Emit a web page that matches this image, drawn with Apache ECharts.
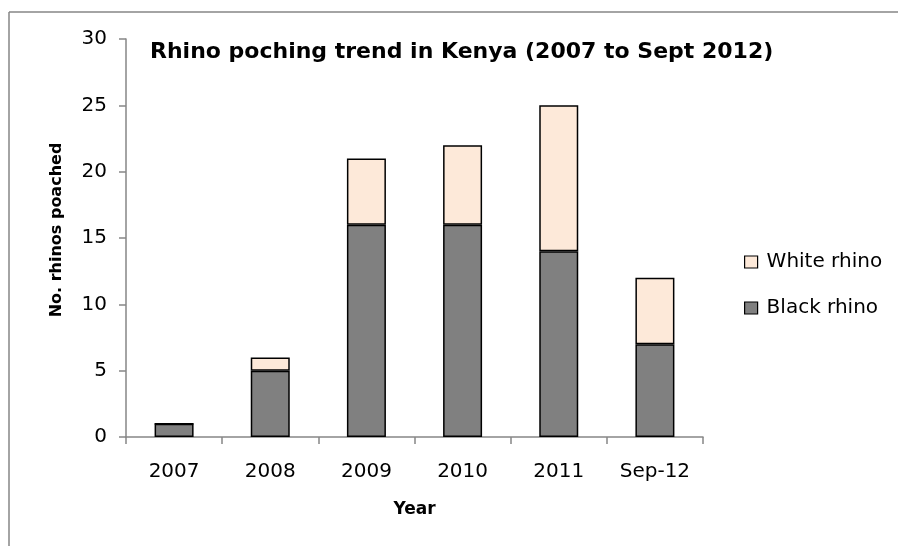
<!DOCTYPE html>
<html><head><meta charset="utf-8">
<script src="https://cdn.jsdelivr.net/npm/echarts@6/dist/echarts.min.js"></script>
<style>html,body{margin:0;padding:0;background:#fff;overflow:hidden}#c{width:898px;height:546px}</style>
</head><body><div id="c"></div>
<script>
const categories = ['2007','2008','2009','2010','2011','Sep-12'];
const blackRhino = [1,5,16,16,14,7];
const whiteRhino = [0,1,5,6,11,5];
const yTicks = {min:0,max:30,interval:5};
const FONT = '"DejaVu Sans", sans-serif';
const chart = echarts.init(document.getElementById('c'));
chart.setOption({
  animation:false,
  backgroundColor:'#fff',
  graphic:[
    {type:'line',shape:{x1:9,y1:12,x2:898,y2:12},style:{stroke:'#868686',lineWidth:1.5},silent:true},
    {type:'line',shape:{x1:9,y1:12,x2:9,y2:546},style:{stroke:'#868686',lineWidth:1.5},silent:true},
    {type:'text',x:57,y:230,rotation:Math.PI/2,style:{text:'No. rhinos poached',font:'bold 16px "DejaVu Sans", sans-serif',fill:'#000',align:'center',verticalAlign:'middle'},silent:true}
  ],
  title:{text:'Rhino poching trend in Kenya (2007 to Sept 2012)',left:150,top:41,padding:0,textStyle:{fontFamily:FONT,fontSize:22,fontWeight:'bold',color:'#000'}},
  legend:{orient:'vertical',left:744,top:252,padding:0,itemWidth:13,itemHeight:12,itemGap:26,icon:'rect',
    textStyle:{fontFamily:FONT,fontSize:20,color:'#000',padding:[0,0,0,4]},
    data:[{name:'White rhino',itemStyle:{color:'#FDE9D9',borderColor:'#000',borderWidth:1.2}},{name:'Black rhino',itemStyle:{color:'#808080',borderColor:'#000',borderWidth:1.2}}]},
  grid:{left:126,right:195,top:39,bottom:109},
  xAxis:{type:'category',data:categories,name:'Year',nameLocation:'middle',nameGap:64,
    nameTextStyle:{fontFamily:FONT,fontSize:17,fontWeight:'bold',color:'#000'},
    axisLine:{lineStyle:{color:'#868686',width:1.5}},axisTick:{show:true,length:7,lineStyle:{color:'#868686',width:1.5}},
    axisLabel:{fontFamily:FONT,fontSize:20,color:'#000',margin:25}},
  yAxis:{type:'value',min:yTicks.min,max:yTicks.max,interval:yTicks.interval,
    axisLine:{show:true,lineStyle:{color:'#868686',width:1.5}},axisTick:{show:true,length:7,lineStyle:{color:'#868686',width:1.5}},
    splitLine:{show:false},axisLabel:{fontFamily:FONT,fontSize:20,color:'#000',margin:19}},
  series:[
    {name:'Black rhino',type:'bar',stack:'a',data:blackRhino,barWidth:39,itemStyle:{color:'#808080',borderColor:'#000',borderWidth:1.5}},
    {name:'White rhino',type:'bar',stack:'a',data:whiteRhino,barWidth:39,itemStyle:{color:'#FDE9D9',borderColor:'#000',borderWidth:1.5}}
  ]
});
</script></body></html>
